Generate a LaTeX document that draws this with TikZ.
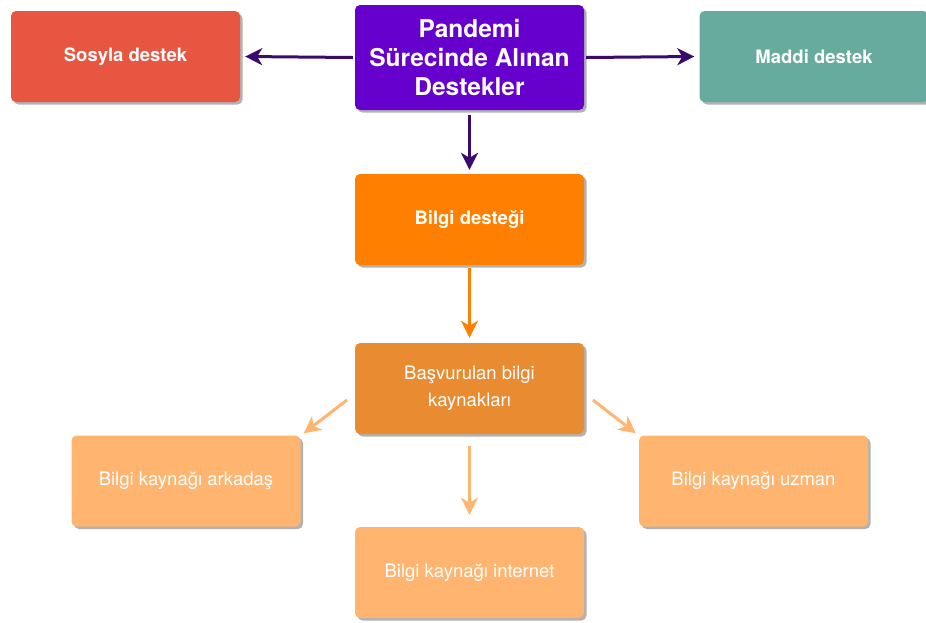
\documentclass[tikz,border=0pt]{standalone}
\usepackage{fontspec}
\setmainfont{TeX Gyre Heros}
\usetikzlibrary{arrows.meta,shadows}
\definecolor{cpurple}{HTML}{6600CC}
\definecolor{cdark}{HTML}{3A0A6E}
\definecolor{cred}{HTML}{E85642}
\definecolor{cteal}{HTML}{67AB9F}
\definecolor{corange}{HTML}{FF8000}
\definecolor{cmid}{HTML}{E98B31}
\definecolor{clight}{HTML}{FFB570}
\tikzset{
  box/.style={draw=none, rounded corners=5pt, text=white, align=center,
    minimum width=229pt, minimum height=91pt, inner sep=0pt,
    drop shadow={shadow xshift=2.5pt, shadow yshift=-2.5pt, fill=black, opacity=0.3}},
  boldtxt/.style={font=\fontsize{18.5}{22}\selectfont\bfseries},
  regtxt/.style={font=\fontsize{18.5}{27}\selectfont},
  tip/.style={-{Stealth[length=17pt,width=17pt,inset=5pt]}},
  darrow/.style={draw=cdark, line width=3pt, tip},
  oarrow/.style={draw=corange, line width=3pt, tip},
  larrow/.style={draw=clight, line width=3pt, tip},
}
\begin{document}
\begin{tikzpicture}[x=1pt,y=-1pt]
\useasboundingbox (0,0) rectangle (926,622);
\node[box, fill=cred, boldtxt] (sos) at (125.5,56.5) {Sosyla destek};
\node[box, fill=cpurple, minimum height=105pt, font=\fontsize{24.5}{29}\selectfont\bfseries] (pan) at (469.5,57.5) {Pandemi\\Sürecinde Alınan\\Destekler};
\node[box, fill=cteal, boldtxt] (mad) at (814,56.5) {Maddi destek};
\node[box, fill=corange, boldtxt] (bil) at (469.5,219.5) {Bilgi desteği};
\node[box, fill=cmid, regtxt] (bas) at (469.5,388.5) {Başvurulan bilgi\\kaynakları};
\node[box, fill=clight, regtxt] (ark) at (186,481) {Bilgi kaynağı arkadaş};
\node[box, fill=clight, regtxt] (uzm) at (753.5,481) {Bilgi kaynağı uzman};
\node[box, fill=clight, regtxt] (int) at (469.5,572.5) {Bilgi kaynağı internet};
\draw[darrow] ([xshift=-2pt]pan.west) -- ([xshift=5pt]sos.east);
\draw[darrow] ([xshift=2pt]pan.east) -- ([xshift=-5pt]mad.west);
\draw[darrow] ([yshift=-5pt]pan.south) -- ([yshift=4pt]bil.north);
\draw[oarrow] ([yshift=-3pt]bil.south) -- ([yshift=5pt]bas.north);
\coordinate (bl) at (347,400);
\coordinate (br) at (593,400);
\draw[larrow] (bl) -- ([xshift=3pt,yshift=2pt]ark.north east);
\draw[larrow] (br) -- ([xshift=-3pt,yshift=2pt]uzm.north west);
\draw[larrow] ([yshift=-12pt]bas.south) -- ([yshift=12pt]int.north);
\end{tikzpicture}
\end{document}
